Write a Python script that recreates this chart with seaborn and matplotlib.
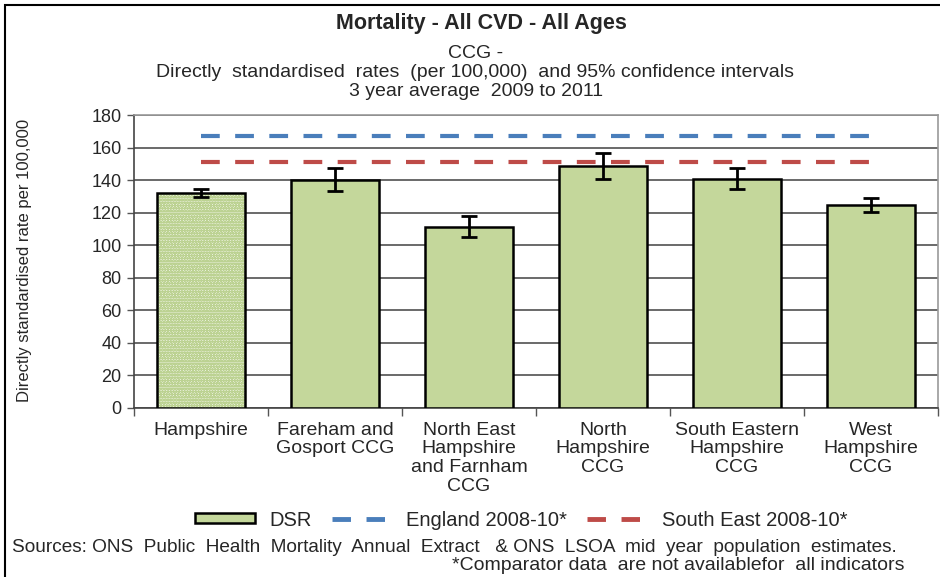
import matplotlib
matplotlib.use("Agg")
import matplotlib.pyplot as plt
from matplotlib.patches import Rectangle
from matplotlib.lines import Line2D
from matplotlib.patches import Patch
import seaborn as sns
import pandas as pd

# values
areas = ["Hampshire", "Fareham and\nGosport CCG", "North East\nHampshire\nand Farnham\nCCG",
         "North\nHampshire\nCCG", "South Eastern\nHampshire\nCCG", "West\nHampshire\nCCG"]
dsr = [132.0, 140.2, 111.5, 148.8, 140.7, 124.6]
ci_low = [129.5, 133.3, 104.8, 140.7, 134.5, 120.6]
ci_high = [134.5, 147.6, 118.1, 156.4, 147.6, 129.2]
england = [167, 167, 167, 167, 167, 167]
south_east = [151, 151, 151, 151, 151, 151]

df = pd.DataFrame({"area": areas, "dsr": dsr, "lo": ci_low, "hi": ci_high,
                   "england": england, "south_east": south_east})

sns.set_style("white")
plt.rcParams["font.family"] = ["Liberation Sans", "DejaVu Sans"]

W, H = 940, 577
fig = plt.figure(figsize=(W / 100, H / 100), dpi=100)
ax = fig.add_axes([134 / W, 1 - 408 / H, (938 - 134) / W, (408 - 115) / H])

green = "#c4d79b"
sns.barplot(data=df, x="area", y="dsr", color=green, width=0.66,
            edgecolor="black", linewidth=1.8, saturation=1, ax=ax, zorder=3)

# Hampshire bar is drawn with a fine dotted fill
first = ax.patches[0]
first.set_facecolor("#f2f6e8")
first.set_edgecolor("#bcd292")
first.set_hatch("oooooo")
first.set_linewidth(0)
ax.add_patch(Rectangle(first.get_xy(), first.get_width(), first.get_height(),
                       fill=False, edgecolor="black", linewidth=1.8, zorder=4))

x = range(len(areas))
ax.errorbar(x, df["dsr"], yerr=[df["dsr"] - df["lo"], df["hi"] - df["dsr"]],
            fmt="none", ecolor="black", elinewidth=2, capsize=5.5, capthick=2, zorder=5)

ax.plot(x, df["england"], color="#4a7ebb", linewidth=3, dashes=(4.5, 3.7), zorder=6)
ax.plot(x, df["south_east"], color="#be4b48", linewidth=3, dashes=(4.5, 3.7), zorder=6)

ax.set_ylim(0, 180)
ax.set_xlim(-0.5, len(areas) - 0.5)
ax.set_yticks(range(0, 181, 20))
ax.yaxis.grid(True, color="#505050", linewidth=1.2, zorder=0)
ax.set_axisbelow(True)
ax.tick_params(axis="y", labelsize=13, length=5, width=1, color="#555555",
               direction="out", left=True, pad=4)
ax.set_xticks(list(x))
ax.set_xticklabels(areas, fontsize=14, linespacing=1.12)
ax.tick_params(axis="x", length=0, pad=10)
ax.set_xticks([i + 0.5 for i in range(-1, len(areas))], minor=True)
ax.tick_params(axis="x", which="minor", length=6, width=1, color="#555555", direction="out", bottom=True)
ax.set_xlabel("")
ax.set_ylabel("")
for side in ["left", "bottom"]:
    ax.spines[side].set_color("#444444")
    ax.spines[side].set_linewidth(1.2)
for side in ["top", "right"]:
    ax.spines[side].set_color("#999999")
    ax.spines[side].set_linewidth(1.2)

fig.text(25 / W, 1 - 260 / H, "Directly standardised rate per 100,000", rotation=90,
         ha="center", va="center", fontsize=12)

fig.text(481 / W, 1 - 23 / H, "Mortality - All CVD - All Ages", ha="center", va="center",
         fontsize=15.5, fontweight="bold")
fig.text(476 / W, 1 - 53 / H, "CCG -", ha="center", va="center", fontsize=14)
fig.text(475 / W, 1 - 72 / H, "Directly  standardised  rates  (per 100,000)  and 95% confidence intervals",
         ha="center", va="center", fontsize=14)
fig.text(476 / W, 1 - 91 / H, "3 year average  2009 to 2011", ha="center", va="center", fontsize=14)

handles = [Patch(facecolor=green, edgecolor="black", linewidth=1.8),
           Line2D([], [], color="#4a7ebb", linewidth=3.5, dashes=(3.8, 3.2)),
           Line2D([], [], color="#be4b48", linewidth=3.5, dashes=(3.8, 3.2))]
fig.legend(handles, ["DSR", "England 2008-10*", "South East 2008-10*"], ncol=3,
           loc="center", bbox_to_anchor=(521 / W, 1 - 520 / H), frameon=False,
           fontsize=14.5, handlelength=3.0, handleheight=0.4, columnspacing=1.0, handletextpad=0.7)

fig.text(12 / W, 1 - 548 / H,
         "Sources: ONS  Public  Health  Mortality  Annual  Extract   & ONS  LSOA  mid  year  population  estimates.",
         ha="left", va="center", fontsize=13.7)
fig.text(905 / W, 1 - 566 / H, "*Comparator data  are not availablefor  all indicators",
         ha="right", va="center", fontsize=14)

fig.add_artist(Rectangle((5 / W, -0.01), 1.0, 1 - 5 / H + 0.01, transform=fig.transFigure,
                         fill=False, edgecolor="black", linewidth=1.5))

fig.savefig("out.png", dpi=100)
